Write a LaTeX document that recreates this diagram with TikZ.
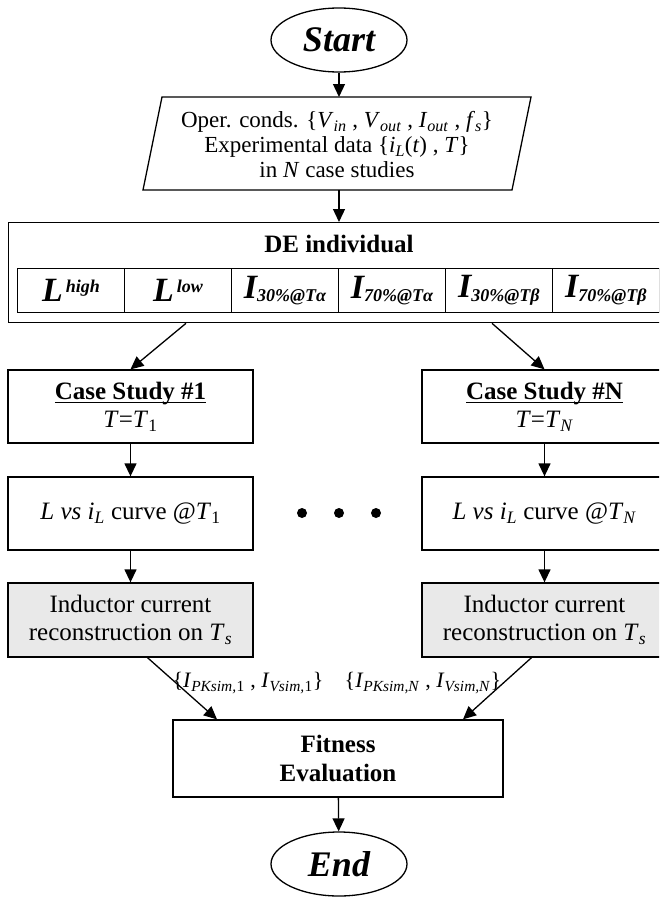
\documentclass[tikz,border=0pt]{standalone}
\usepackage{fontspec}
\setmainfont{Liberation Serif}
\usetikzlibrary{shapes.geometric,arrows.meta,calc}

% italic variable with italic subscript
\newcommand\var[2]{\textit{#1}\textsubscript{\textit{#2}}}
% bold italic table entries
\newcommand\cellI[1]{I\textsubscript{\fontsize{18}{20}\selectfont #1}}
\newcommand\cellL[1]{L\textsuperscript{\fontsize{18}{20}\selectfont\,#1}}
% heavy underline for the case headings
\newcommand\heavyul[1]{\setbox0\hbox{#1}\leavevmode\rlap{\raisebox{-4pt}{\rule{\wd0}{1.7pt}}}\box0}

\begin{document}
\begin{tikzpicture}[x=1pt,y=-1pt,line width=1.3pt,
  arr/.style={-{Triangle[length=13pt,width=12pt]}},
  txt/.style={font=\fontsize{25}{28}\selectfont},
  box/.style={draw, minimum width=245pt, minimum height=73pt, align=center,
              inner sep=0pt, txt},
  term/.style={draw, ellipse, minimum width=136pt, minimum height=64pt, inner sep=0pt,
               font=\fontsize{36}{38}\selectfont\bfseries\itshape},
  cell/.style={draw, anchor=north west, minimum width=107pt, minimum height=44pt,
               inner sep=0pt, font=\fontsize{34}{36}\selectfont\bfseries\itshape},
  lbl/.style={font=\fontsize{22}{26}\selectfont}]
\path[use as bounding box, clip] (0,0) rectangle (659,897);

% terminals
\node[term] (start) at (339,40) {Start};
\node[term] (end) at (339,864) {End};

% input data (parallelogram)
\draw (162,97) -- (531,97) -- (512,190) -- (143,190) -- cycle;
\coordinate (inTop) at (339,97);
\coordinate (inBot) at (339,190);
\node[font=\fontsize{23}{25}\selectfont, align=center] (inp) at (337,145)
  {Oper. conds. \{\var{V}{in} , \var{V}{out} , \var{I}{out} , \var{f}{s}\}\\
   Experimental data \{\var{i}{L}(\textit{t}) , \textit{T}\}\\
   in \textit{N} case studies};

% DE individual
\node[draw, anchor=north west, minimum width=700pt, minimum height=100pt,
      inner sep=0pt] (de) at (8,222) {};
\node[font=\fontsize{25}{28}\selectfont\bfseries] (detitle) at (339,244) {DE individual};
\node[cell] (c1) at (17,268)  {\cellL{high}};
\node[cell] (c2) at (124,268) {\cellL{low}};
\node[cell] (c3) at (231,268) {\cellI{30\%@Tα}};
\node[cell] (c4) at (338,268) {\cellI{70\%@Tα}};
\node[cell] (c5) at (445,268) {\cellI{30\%@Tβ}};
\node[cell] (c6) at (552,268) {\cellI{70\%@Tβ}};

% case study columns
\node[box] (cs1) at (130.5,406.5) {\heavyul{\textbf{Case Study \#1}}\\\textit{T}=\textit{T}\textsubscript{1}};
\node[box] (csN) at (544.5,406.5) {\heavyul{\textbf{Case Study \#N}}\\\textit{T}=\var{T}{N}};
\node[box] (l1) at (130.5,513.5) {\textit{L vs} \var{i}{L} curve @\textit{T}\textsubscript{1}};
\node[box] (lN) at (544.5,513.5) {\textit{L vs} \var{i}{L} curve @\var{T}{N}};
\node[box, fill=gray!17, minimum height=74pt] (r1) at (130.5,620) {Inductor current\\reconstruction on \var{T}{s}};
\node[box, fill=gray!17, minimum height=74pt] (rN) at (544.5,620) {Inductor current\\reconstruction on \var{T}{s}};

\fill (302,513) circle (5pt) (339,513) circle (5pt) (376,513) circle (5pt);

% fitness
\node[draw, minimum width=330pt, minimum height=77pt, align=center,
      font=\fontsize{25}{29}\selectfont\bfseries] (fit) at (338,758.5) {Fitness\\Evaluation};

\node[lbl] (lab1) at (248,683) {\{\var{I}{PKsim,}\textsubscript{1} , \var{I}{Vsim,}\textsubscript{1}\}};
\node[lbl] (labN) at (423,683) {\{\var{I}{PKsim,N} , \var{I}{Vsim,N}\}};

% connectors
\draw[arr] (start) -- (inTop);
\draw[arr] (inBot) -- (inBot |- de.north);
\draw[arr] ([xshift=178pt]de.south west) -- (cs1.north);
\draw[arr] ([xshift=484pt]de.south west) -- (csN.north);
\draw[arr] (cs1) -- (l1);
\draw[arr] (l1) -- (r1);
\draw[arr] (csN) -- (lN);
\draw[arr] (lN) -- (rN);
\draw[arr] ([xshift=17pt]r1.south) -- ([xshift=-121pt]fit.north);
\draw[arr] ([xshift=-13pt]rN.south) -- ([xshift=125pt]fit.north);
\draw[arr] (fit) -- (end);
\end{tikzpicture}
\end{document}
